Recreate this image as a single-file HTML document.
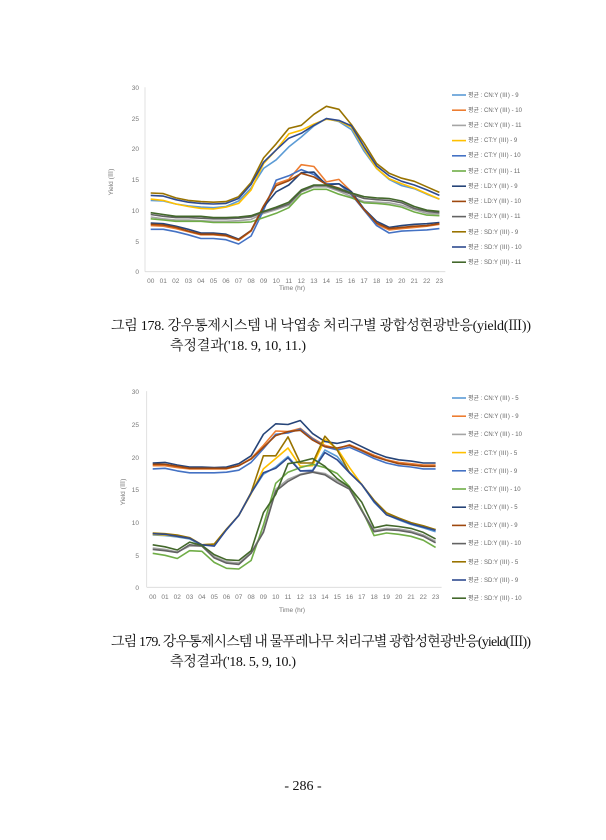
<!DOCTYPE html>
<html><head><meta charset="utf-8"><style>
body{margin:0;background:#fff;}
svg{display:block;}
.t{font-family:"Liberation Sans","Noto Sans CJK KR",sans-serif;font-size:6.5px;fill:#777;}
.l{font-family:"Liberation Sans","Noto Sans CJK KR",sans-serif;font-size:6px;fill:#666;}
.c{font-family:"Liberation Serif","Noto Serif CJK SC","Noto Sans CJK KR",serif;font-size:14px;fill:#111;}
</style></head><body>
<svg id="s" width="606" height="840" viewBox="0 0 606 840" xmlns="http://www.w3.org/2000/svg">
<rect width="606" height="840" fill="#fff"/>
<g id="c1"></g><g id="c2"></g>
<!-- chart1 y labels -->
<g class="t" text-anchor="end">
<text x="139" y="90">30</text><text x="139" y="121">25</text><text x="139" y="151">20</text><text x="139" y="182">15</text><text x="139" y="213">10</text><text x="139" y="244">5</text><text x="139" y="274">0</text>
<text x="139" y="394">30</text><text x="139" y="460">20</text><text x="139" y="427">25</text><text x="139" y="492">15</text><text x="139" y="525">10</text><text x="139" y="558">5</text><text x="139" y="590">0</text>
</g>
<text class="t" transform="translate(113,182) rotate(-90)" text-anchor="middle">Yield (Ⅲ)</text>
<text class="t" transform="translate(125,492) rotate(-90)" text-anchor="middle">Yield (Ⅲ)</text>
<text class="t" x="292" y="290" text-anchor="middle">Time (hr)</text>
<text class="t" x="292" y="612" text-anchor="middle">Time (hr)</text>
<g id="xl" class="t" text-anchor="middle"></g>
<g id="lg"></g>
<text class="c" x="111" y="330" textLength="420">그림 178. 강우통제시스템 내 낙엽송 처리구별 광합성현광반응(yield(Ⅲ))</text>
<text class="c" x="170" y="350" textLength="136">측정결과('18. 9, 10, 11.)</text>
<text class="c" x="111" y="646" textLength="420">그림 179. 강우통제시스템 내 물푸레나무 처리구별 광합성현광반응(yield(Ⅲ))</text>
<text class="c" x="170" y="666" textLength="126">측정결과('18. 5, 9, 10.)</text>
<text class="c" x="303" y="790" text-anchor="middle" font-size="13">- 286 -</text>
<g class="l">
<text x="468" y="97">평균 : CN:Y (Ⅲ) - 9</text><text x="468" y="112">평균 : CN:Y (Ⅲ) - 10</text><text x="468" y="127">평균 : CN:Y (Ⅲ) - 11</text><text x="468" y="142">평균 : CT:Y (Ⅲ) - 9</text><text x="468" y="157">평균 : CT:Y (Ⅲ) - 10</text><text x="468" y="173">평균 : CT:Y (Ⅲ) - 11</text><text x="468" y="188">평균 : LD:Y (Ⅲ) - 9</text><text x="468" y="203">평균 : LD:Y (Ⅲ) - 10</text><text x="468" y="218">평균 : LD:Y (Ⅲ) - 11</text><text x="468" y="234">평균 : SD:Y (Ⅲ) - 9</text><text x="468" y="249">평균 : SD:Y (Ⅲ) - 10</text><text x="468" y="264">평균 : SD:Y (Ⅲ) - 11</text>
<text x="468" y="400">평균 : CN:Y (Ⅲ) - 5</text><text x="468" y="418">평균 : CN:Y (Ⅲ) - 9</text><text x="468" y="436">평균 : CN:Y (Ⅲ) - 10</text><text x="468" y="455">평균 : CT:Y (Ⅲ) - 5</text><text x="468" y="473">평균 : CT:Y (Ⅲ) - 9</text><text x="468" y="491">평균 : CT:Y (Ⅲ) - 10</text><text x="468" y="509">평균 : LD:Y (Ⅲ) - 5</text><text x="468" y="527">평균 : LD:Y (Ⅲ) - 9</text><text x="468" y="545">평균 : LD:Y (Ⅲ) - 10</text><text x="468" y="564">평균 : SD:Y (Ⅲ) - 5</text><text x="468" y="582">평균 : SD:Y (Ⅲ) - 9</text><text x="468" y="600">평균 : SD:Y (Ⅲ) - 10</text>
</g>
</svg>
<script>
const NS="http://www.w3.org/2000/svg";
function el(p,n,a){const e=document.createElementNS(NS,n);for(const k in a)e.setAttribute(k,a[k]);p.appendChild(e);return e;}
const cols=["#5b9bd5","#ed7d31","#a5a5a5","#ffc000","#4472c4","#70ad47","#264478","#9e480e","#636363","#997300","#2f4b8f","#43682b"];
const c1=[
[11.6,11.5,11,10.7,10.5,10.4,10.6,11.5,13.6,16.8,18.2,20.3,21.9,23.7,24.9,24.4,23.1,19.6,16.8,15,14,13.5,12.6,11.8],
[7.5,7.4,7,6.5,6,6,5.8,5.1,6.6,10.5,14.3,15,17.4,17.1,14.6,15,13,10,7.7,6.8,7,7.2,7.4,7.7],
[8.9,8.6,8.4,8.4,8.3,8.2,8.2,8.3,8.5,9.5,10.1,10.8,13,13.8,13.8,13.1,12.2,11.4,11.3,11.2,10.8,10.1,9.5,9.4],
[11.8,11.6,11,10.6,10.3,10.2,10.5,11.1,13.3,17.6,19.8,22.4,23,24,24.8,24.5,23.5,20,16.8,15.1,14.3,13.6,12.7,11.8],
[6.9,6.9,6.5,6,5.4,5.4,5.2,4.5,5.8,10,14.9,15.6,16.6,15.8,14.3,14.3,12.5,10,7.5,6.3,6.6,6.7,6.8,7],
[8.6,8.4,8.2,8.2,8.2,8,8,8,8.1,8.8,9.5,10.4,12.6,13.4,13.4,12.6,12,11.2,11.1,10.9,10.5,9.7,9.2,9.1],
[7.9,7.8,7.4,6.9,6.3,6.3,6.1,5.3,6.7,10.5,13,14.1,16.1,16.2,14.1,14.3,13,10.2,8.2,7.2,7.5,7.7,7.8,8],
[7.7,7.6,7.2,6.6,6.1,6.1,5.9,5.2,6.7,10.7,14,14.8,16,15.4,14.2,13.6,12.7,10.1,7.9,7,7.2,7.4,7.5,7.8],
[9.3,9,8.8,8.8,8.7,8.6,8.6,8.7,8.9,9.7,10.3,11,13.1,14,14,13.3,12.6,11.9,11.7,11.6,11.2,10.3,9.8,9.6],
[12.8,12.7,12,11.6,11.4,11.3,11.4,12.2,14.5,18.5,20.8,23.3,23.8,25.6,26.9,26.4,23.9,20.9,17.6,16,15.2,14.7,13.8,12.9],
[12.4,12.3,11.7,11.3,11.1,11,11.1,11.9,14.2,17.8,19.8,21.7,22.5,23.8,24.9,24.6,23.7,20.3,17.2,15.6,14.7,14.1,13.3,12.4],
[9.6,9.3,9,9,9,8.8,8.8,8.9,9.1,9.8,10.5,11.3,13.3,14.1,14.1,13.5,12.8,12.2,12,11.9,11.5,10.6,10,9.8]];
const c2=[
[8,7.9,7.7,7.4,6.4,6.5,8.8,11,14.4,17.3,18.4,20,17.8,17.9,21,20,17.6,15.7,13,11.1,10.3,9.6,9.1,8.5],
[18.6,18.6,18.3,18.1,18.1,18.1,18.1,18.6,19.7,21.7,23.9,23.8,24.3,22.8,21.7,21.2,21.8,21,20.2,19.5,19.1,18.9,18.7,18.7],
[6,5.8,5.4,6.3,6.3,4.7,3.9,3.7,5.3,8.6,15,16.5,17.3,17.7,17.4,16.3,15.2,11.8,8.7,9,8.9,8.6,8,7],
[8.1,8,7.8,7.5,6.5,6.6,8.9,11,14.3,18.1,19.7,21.3,18.5,18.6,22.6,21.2,18.3,15.7,13.2,11.3,10.5,9.8,9.3,8.8],
[18.1,18.2,17.8,17.5,17.5,17.5,17.6,17.9,19.1,21.2,23.4,23.6,24.2,22.7,21.5,21,21.4,20.6,19.7,19,18.6,18.4,18.1,18.1],
[5.2,4.9,4.4,5.6,5.5,3.8,2.9,2.8,4.1,9.5,15.9,17.6,18.3,18.8,18.3,17.4,15.4,11.9,7.9,8.3,8.1,7.8,7.2,6.1],
[19,19.1,18.7,18.4,18.4,18.3,18.4,18.9,20.1,23.4,25,24.9,25.5,23.5,22.3,22,22.4,21.5,20.6,19.9,19.5,19.3,19,19],
[18.8,18.8,18.5,18.2,18.2,18.2,18.2,18.6,19.6,21.4,23.2,23.8,24,22.5,21.5,21.3,21.7,20.9,20,19.4,18.9,18.7,18.5,18.5],
[5.8,5.6,5.3,6.5,6.3,4.5,3.7,3.5,5.2,8.4,14.7,16.2,17.2,17.6,17.2,16,15,11.7,8.5,8.8,8.7,8.4,7.8,6.8],
[8.3,8.2,8,7.6,6.5,6.6,8.9,11,14.5,20.1,20.1,23,19,19,23.1,21,17.5,15.7,13.3,11.4,10.6,9.9,9.4,8.8],
[8.2,8.1,7.8,7.5,6.5,6.3,8.8,11,14.4,17.5,18.2,19.8,17.8,17.8,20.6,19.5,17.5,15.7,13.1,11.1,10.4,9.7,9.2,8.7],
[6.5,6.2,5.7,6.9,6.4,5,4.2,4.1,5.6,11.4,14.2,18.9,19.2,19.7,18.5,16.6,15.3,13,9.1,9.5,9.3,9,8.4,7.4]];
function chart(g,data,x0,dx,y0,py,ax){
 const G=document.getElementById(g);
 el(G,"line",{x1:ax,y1:y0-30*py,x2:ax,y2:y0,stroke:"#d9d9d9","stroke-width":0.8});
 el(G,"line",{x1:ax,y1:y0,x2:x0+23*dx+6,y2:y0,stroke:"#d9d9d9","stroke-width":0.8});
 data.forEach((d,i)=>{el(G,"polyline",{points:d.map((v,j)=>(x0+j*dx).toFixed(1)+","+(y0-v*py).toFixed(1)).join(" "),fill:"none",stroke:cols[i],"stroke-width":1.6,"stroke-linejoin":"round"});});
}
chart("c1",c1,150.7,12.55,271.7,6.15,145);
chart("c2",c2,152.7,12.3,587.3,6.54,146.7);
const xl=document.getElementById("xl"),lg=document.getElementById("lg");
for(let j=0;j<24;j++){const s=(j<10?"0":"")+j;
 el(xl,"text",{x:150.7+j*12.55,y:283}).textContent=s;
 el(xl,"text",{x:152.7+j*12.3,y:599}).textContent=s;}
for(let i=0;i<12;i++){
 el(lg,"line",{x1:452,x2:466,y1:95+i*15.2,y2:95+i*15.2,stroke:cols[i],"stroke-width":1.6});
 el(lg,"line",{x1:452,x2:466,y1:398+i*18.2,y2:398+i*18.2,stroke:cols[i],"stroke-width":1.6});
}
</script>
</body></html>
